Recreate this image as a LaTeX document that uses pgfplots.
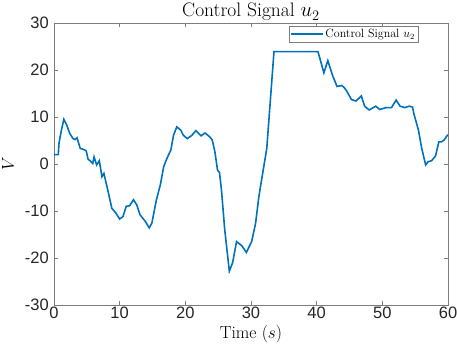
\documentclass[border=0pt]{standalone}
\usepackage{fontspec}
\usepackage{pgfplots}
\pgfplotsset{compat=1.18}
\newfontfamily\ticksf{Liberation Sans}
\definecolor{mblue}{RGB}{0,114,189}
\definecolor{axgray}{RGB}{125,125,125}
\begin{document}
\begin{tikzpicture}
\begin{axis}[
  scale only axis,
  width=394pt, height=282pt,
  xmin=0, xmax=60, ymin=-30, ymax=30,
  xtick={0,10,20,30,40,50,60},
  ytick={-30,-20,-10,0,10,20,30},
  xticklabels={0,10,20,30,40,50,60},
  yticklabels={-30,-20,-10,0,10,20,30},
  tick label style={font=\ticksf\fontsize{16.5}{18}\selectfont, text=black!85},
  xticklabel style={inner sep=2pt},
  yticklabel style={inner sep=5pt},
  tick align=inside,
  major tick length=4pt,
  axis line style={axgray, line width=0.6pt},
  tick style={axgray, line width=0.6pt},
  xtick pos=both, ytick pos=both,
  title={Control Signal $u_2$},
  title style={font=\fontsize{19.5}{22}\selectfont, at={(rel axis cs:0.5,1)}, anchor=base, yshift=0pt, inner sep=0pt},
  xlabel={Time ($s$)},
  ylabel={$V$},
  label style={font=\fontsize{17.5}{20}\selectfont},
  xlabel style={at={(rel axis cs:0.5,0)}, anchor=north, yshift=-20pt, inner sep=0pt},
  ylabel style={at={(rel axis cs:0,0.5)}, anchor=center, yshift=46pt, inner sep=0pt},
  legend style={at={(0.924,0.99)}, anchor=north east, font=\fontsize{12}{13}\selectfont, draw=axgray, inner sep=1pt, row sep=-1pt},
  legend image code/.code={\draw[#1, line width=1.4pt] (0pt,0pt) -- (32pt,0pt);},
  legend cell align=left,
]
\addplot[mblue, line width=1.6pt] coordinates {
(0,2.0) (0.65,2.0) (0.76,4.4) (1.1,7.0) (1.5,9.5) (1.9,8.4) (2.4,6.5) (2.9,5.4) (3.2,5.2) (3.5,5.6)
(4.0,3.3) (4.5,3.1) (4.9,2.8) (5.2,1.0) (5.5,0.7) (5.9,0.1) (6.1,1.5) (6.5,-0.2) (6.9,0.7)
(7.3,-2.7) (7.6,-2.0) (8.3,-6.2) (8.8,-9.4) (9.4,-10.4) (10.0,-11.7) (10.5,-11.2) (11.0,-9.0)
(11.5,-8.9) (12.1,-7.6) (12.6,-8.7) (13.1,-10.8) (13.9,-12.2) (14.5,-13.6) (14.9,-12.6)
(15.6,-7.6) (16.2,-4.4) (16.7,-0.6) (17.2,1.2) (17.8,3.0) (18.2,6.1) (18.7,7.9) (19.3,7.2)
(19.7,6.1) (20.3,5.4) (21.0,6.1) (21.6,7.1) (22.4,6.0) (23.0,6.6) (23.7,5.8) (24.1,5.1)
(24.5,2.6) (24.9,-1.3) (25.2,-1.8) (25.5,-5.5) (26.0,-14.0) (26.7,-22.8) (27.2,-21.0)
(27.8,-16.5) (28.6,-17.4) (29.3,-18.8) (30.1,-16.5) (30.7,-12.6) (31.2,-6.9) (32.4,3.3)
(33.5,23.9) (40.2,23.9) (41.1,19.4) (41.7,22.0) (42.4,18.9) (43.1,16.5) (43.8,16.7)
(44.1,16.4) (44.5,15.7) (45.3,13.7) (46.0,13.4) (46.8,14.5) (47.3,12.3) (48.0,11.5)
(49.0,12.3) (49.6,11.6) (50.6,12.0) (51.4,12.0) (52.1,13.6) (52.7,12.3) (53.4,12.0)
(54.1,12.3) (54.6,12.1) (54.8,10.7) (55.5,7.2) (56.0,3.3) (56.6,-0.2) (57.0,0.5)
(57.5,0.7) (58.1,1.7) (58.6,4.7) (59.0,4.7) (59.4,5.1) (59.9,6.1) (60,6.2)
};
\addlegendentry{Control Signal $u_2$\hspace{5pt}}
\end{axis}
\pgfresetboundingbox
\path ([xshift=-54pt,yshift=-46pt]current axis.south west) rectangle ([xshift=9pt,yshift=23pt]current axis.north east);
\end{tikzpicture}
\end{document}
